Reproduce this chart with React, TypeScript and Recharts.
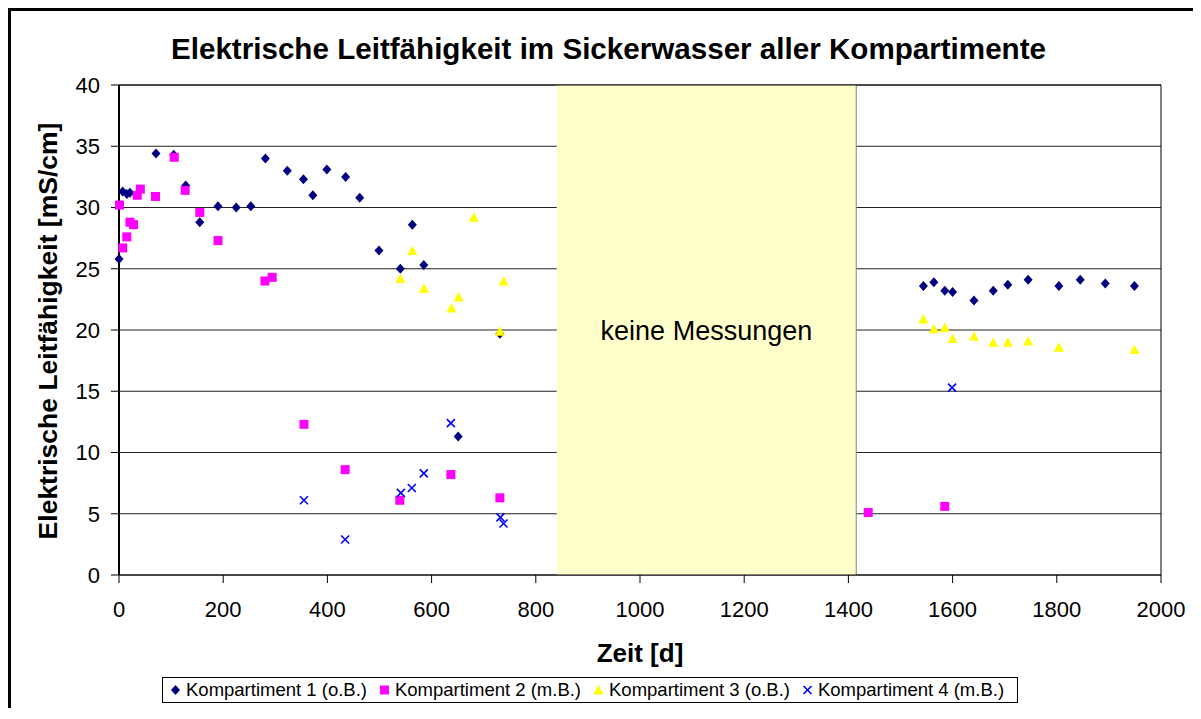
import React from 'react';
import {
  ScatterChart, Scatter, XAxis, YAxis, CartesianGrid,
  ReferenceArea, ReferenceLine, Legend
} from 'recharts';

// Kompartiment 1 (o.B.)
const k1Zeit = [0, 7, 15, 21, 71, 105, 128, 155, 190, 225, 253, 281, 323, 354, 372, 399, 435, 462, 499, 540, 563, 585, 651, 731, 1544, 1564, 1585, 1600, 1641, 1678, 1706, 1745, 1804, 1845, 1893, 1949];
const k1Wert = [25.8, 31.3, 31.1, 31.2, 34.4, 34.3, 31.8, 28.8, 30.1, 30.0, 30.1, 34.0, 33.0, 32.3, 31.0, 33.1, 32.5, 30.8, 26.5, 25.0, 28.6, 25.3, 11.3, 19.7, 23.6, 23.9, 23.2, 23.1, 22.4, 23.2, 23.7, 24.1, 23.6, 24.1, 23.8, 23.6];

// Kompartiment 2 (m.B.)
const k2Zeit = [1, 7, 15, 21, 28, 35, 41, 70, 106, 127, 155, 190, 280, 294, 355, 434, 539, 637, 731, 1438, 1585];
const k2Wert = [30.2, 26.7, 27.6, 28.8, 28.6, 31.0, 31.5, 30.9, 34.1, 31.4, 29.6, 27.3, 24.0, 24.3, 12.3, 8.6, 6.1, 8.2, 6.3, 5.1, 5.6];

// Kompartiment 3 (o.B.)
const k3Zeit = [540, 563, 585, 638, 652, 681, 731, 738, 1544, 1564, 1585, 1600, 1641, 1678, 1706, 1745, 1804, 1949];
const k3Wert = [24.2, 26.5, 23.4, 21.8, 22.7, 29.2, 19.9, 24.0, 20.9, 20.1, 20.2, 19.3, 19.5, 19.0, 19.0, 19.1, 18.6, 18.4];

// Kompartiment 4 (m.B.)
const k4Zeit = [355, 434, 541, 562, 585, 637, 732, 738, 1599];
const k4Wert = [6.1, 2.9, 6.7, 7.1, 8.3, 12.4, 4.7, 4.2, 15.3];

const xTicks = [0, 200, 400, 600, 800, 1000, 1200, 1400, 1600, 1800, 2000];
const yTicks = [0, 5, 10, 15, 20, 25, 30, 35, 40];
const luecke = [840, 1415]; // keine Messungen

const FONT = '"Liberation Sans", Arial, Helvetica, sans-serif';

const toPoints = (xs: number[], ys: number[]) => xs.map((x, i) => ({ x, y: ys[i] }));

const Diamond = ({ cx, cy }: any) => (
  <path d={`M${cx},${cy - 5}L${cx + 4.5},${cy}L${cx},${cy + 5}L${cx - 4.5},${cy}Z`} fill="#000080" />
);
const Square = ({ cx, cy }: any) => (
  <rect x={cx - 4.5} y={cy - 4.5} width={9} height={9} fill="#FF00FF" />
);
const Triangle = ({ cx, cy }: any) => (
  <path d={`M${cx},${cy - 5}L${cx + 5},${cy + 4.5}L${cx - 5},${cy + 4.5}Z`} fill="#FFFF00" />
);
const Cross = ({ cx, cy }: any) => (
  <g stroke="#0000FF" strokeWidth={1.6}>
    <line x1={cx - 4} y1={cy - 4} x2={cx + 4} y2={cy + 4} />
    <line x1={cx - 4} y1={cy + 4} x2={cx + 4} y2={cy - 4} />
  </g>
);

const series = [
  { name: 'Kompartiment 1 (o.B.)', data: toPoints(k1Zeit, k1Wert), Shape: Diamond },
  { name: 'Kompartiment 2 (m.B.)', data: toPoints(k2Zeit, k2Wert), Shape: Square },
  { name: 'Kompartiment 3 (o.B.)', data: toPoints(k3Zeit, k3Wert), Shape: Triangle },
  { name: 'Kompartiment 4 (m.B.)', data: toPoints(k4Zeit, k4Wert), Shape: Cross },
];

const LegendBox = () => (
  <div style={{
    display: 'flex', alignItems: 'center', gap: 12, height: 26, paddingLeft: 7,
    border: '1px solid #000', background: '#fff', fontFamily: FONT, fontSize: 18.5, color: '#000',
    boxSizing: 'border-box', width: 856, whiteSpace: 'nowrap'
  }}>
    {series.map(({ name, Shape }) => (
      <div key={name} style={{ display: 'flex', alignItems: 'center', gap: 5 }}>
        <svg width={11} height={12}><Shape cx={5.5} cy={6} /></svg>
        <span>{name}</span>
      </div>
    ))}
  </div>
);

export default function App() {
  return (
    <div style={{ position: 'relative', width: 1193, height: 700, fontFamily: FONT, background: '#fff' }}>
      <ScatterChart width={1193} height={700} margin={{ top: 77, right: 40, bottom: 103, left: 0 }}>
        <CartesianGrid vertical={false} stroke="#222" strokeWidth={1} />
        <XAxis
          type="number" dataKey="x" domain={[0, 2000]} ticks={xTicks} interval={0}
          tick={{ fontSize: 22, fill: '#000', fontFamily: FONT }}
          tickLine={{ stroke: '#000' }} axisLine={{ stroke: '#000' }}
          tickSize={8} tickMargin={18} height={30}
        />
        <YAxis
          type="number" dataKey="y" domain={[0, 40]} ticks={yTicks} interval={0}
          tick={{ fontSize: 22, fill: '#000', fontFamily: FONT }}
          tickLine={{ stroke: '#000' }} axisLine={{ stroke: '#000', strokeWidth: 2 }}
          tickSize={8} tickMargin={11} width={111}
        />
        <ReferenceArea
          x1={luecke[0]} x2={luecke[1]} fill="#FFFFCC" fillOpacity={1} stroke="none"
          label={{ value: 'keine Messungen', position: 'center', fontSize: 27, fill: '#000', fontFamily: FONT }}
        />
        <ReferenceLine x={luecke[1]} stroke="#808080" />
        <ReferenceLine y={40} stroke="#000" />
        <ReferenceLine x={2000} stroke="#000" />
        {series.map(({ name, data, Shape }) => (
          <Scatter key={name} name={name} data={data} shape={(p: any) => <Shape cx={p.cx} cy={p.cy} />} isAnimationActive={false} />
        ))}
        <Legend
          verticalAlign="middle" align="center" layout="horizontal"
          wrapperStyle={{ left: 154, top: 669, width: 856, height: 26 }}
          content={() => <LegendBox />}
        />
      </ScatterChart>
      <svg width={1193} height={700} style={{ position: 'absolute', left: 0, top: 0, pointerEvents: 'none' }}>
        <text x={600.5} y={51} textAnchor="middle" fontSize={29.6} fontWeight="bold" fontFamily={FONT}>
          Elektrische Leitfähigkeit im Sickerwasser aller Kompartimente
        </text>
        <text transform="translate(49,323) rotate(-90)" textAnchor="middle" fontSize={26.5} fontWeight="bold" fontFamily={FONT}>
          Elektrische Leitfähigkeit [mS/cm]
        </text>
        <text x={632} y={654} textAnchor="middle" fontSize={26} fontWeight="bold" fontFamily={FONT}>
          Zeit [d]
        </text>
      </svg>
      <div style={{ position: 'absolute', left: 0, top: 0, width: 1193, height: 700, borderLeft: '3px solid #000', borderTop: '3px solid #000', boxSizing: 'border-box', pointerEvents: 'none' }} />
    </div>
  );
}
